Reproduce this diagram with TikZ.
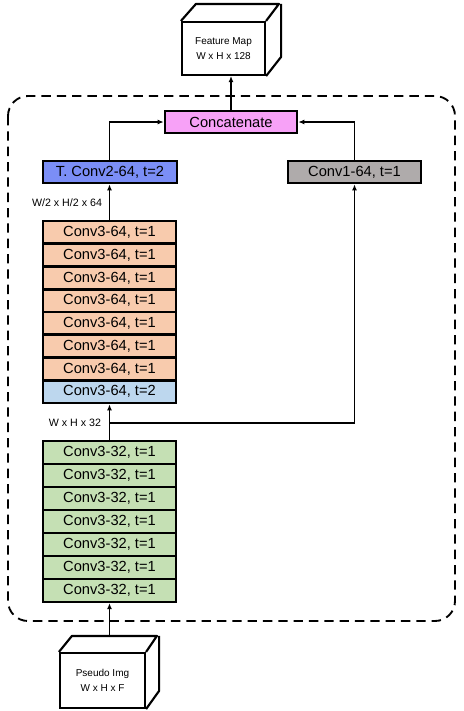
\documentclass[tikz,border=0pt]{standalone}
\usepackage{fontspec}
\setmainfont{Liberation Sans}
\usetikzlibrary{arrows.meta}
\definecolor{peach}{HTML}{F8CBAD}
\definecolor{skyblue}{HTML}{BDD7EE}
\definecolor{leafgreen}{HTML}{C5E0B4}
\definecolor{stonegrey}{HTML}{AFABAB}
\definecolor{violetblue}{HTML}{7B8EF6}
\definecolor{orchid}{HTML}{F7A1F7}
\tikzset{
  convbox/.style={draw, line width=2pt, minimum width=99.75pt,
    minimum height=17.06pt, inner sep=0pt, font=\fontsize{11}{13}\selectfont},
  cubebox/.style={draw, line width=1.6pt, align=center, inner sep=0pt,
    font=\fontsize{7.5}{11}\selectfont, fill=white},
  cubeline/.style={line width=1.6pt, line join=round},
  flow/.style={line width=1.4pt, -{Latex[length=4.5pt,width=3.8pt]}},
  sizelabel/.style={font=\fontsize{8}{9}\selectfont, inner sep=1pt}
}
\begin{document}
\begin{tikzpicture}[x=0.75pt, y=-0.75pt]
    \useasboundingbox (0,0) rectangle (464,711);
    %% dashed frame
    \draw[line width=1.4pt, dash pattern=on 7pt off 4.5pt, rounded corners=15pt]
        (8,96) rectangle (455,621);

    %% Conv3-32 stack
    \foreach \i in {1,...,7} {
      \node[convbox, fill=leafgreen] (c32-\i) at (109.5, {441+23*(\i-0.5)}) {Conv3-32, t=1}; }

    %% Conv3-64 stack
    \foreach \i in {1,...,7} {
      \node[convbox, fill=peach] (c64-\i) at (109.5, {221+22.75*(\i-0.5)}) {Conv3-64, t=1}; }
    \node[convbox, fill=skyblue] (c64-8) at (109.5, {221+22.75*7.5}) {Conv3-64, t=2};

    %% upper boxes
    \node[convbox, fill=violetblue, minimum width=100.5pt, minimum height=16.5pt]
        (tconv) at (110, 172) {T. Conv2-64, t=2};
    \node[convbox, fill=stonegrey, minimum height=16.5pt]
        (conv1) at (354.5, 172) {Conv1-64, t=1};
    \node[convbox, fill=orchid, minimum width=99pt, minimum height=16.5pt]
        (concat) at (231, 122) {Concatenate};

    %% output cube
    \node[cubebox, minimum width=62.25pt, minimum height=39.75pt]
        (feat) at (223.5, 48.5) {Feature Map\\W x H x 128};
    \draw[cubeline] (feat.north west) -- ++(15,-17) -- ++(83,0) -- (feat.north east);
    \draw[cubeline] (feat.north east) ++(15,-17) -- ++(0,53) -- (feat.south east);

    %% input cube
    \node[cubebox, minimum width=63.75pt, minimum height=41.25pt]
        (pseudo) at (102.5, 680.5) {Pseudo Img\\W x H x F};
    \draw[cubeline] (pseudo.north west) -- ++(13,-16) -- ++(85,0) -- (pseudo.north east);
    \draw[cubeline] (pseudo.north east) ++(13,-16) -- ++(0,55) -- (pseudo.south east);
    \coordinate (pseudo top) at (c32-7.south |- 0,637);

    %% connectors
    \coordinate (split) at (c32-1.north |- 0,423);
    \draw[flow] (pseudo top) -- (c32-7.south);
    \draw[flow] (c32-1.north) -- (c64-8.south);
    \draw[flow] (split) -| (conv1.south);
    \draw[flow] (c64-1.north) -- (tconv.south -| c64-1.north);
    \draw[flow] (tconv.north -| c64-1.north) |- (concat.west);
    \draw[flow] (conv1.north) |- (concat.east);
    \draw[flow] (concat.north) -- (concat.north |- feat.south);

    %% size labels
    \node[sizelabel] (lbl64) at (67, 203) {W/2 x H/2 x 64};
    \node[sizelabel] (lbl32) at (75, 423) {W x H x 32};
\end{tikzpicture}
\end{document}
